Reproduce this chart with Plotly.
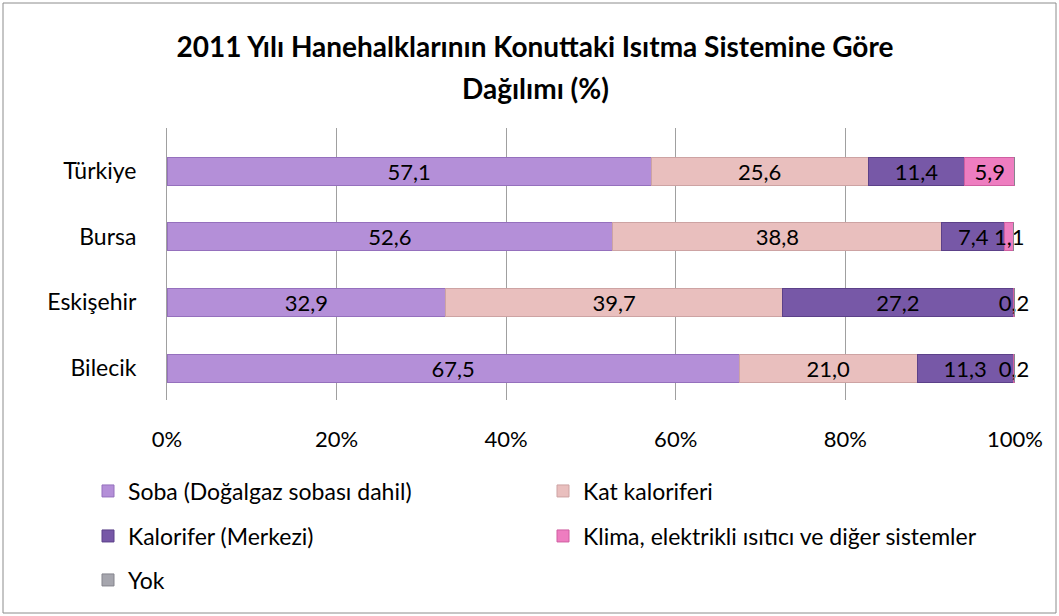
import plotly.graph_objects as go

categories = ["Türkiye", "Bursa", "Eskişehir", "Bilecik"]
series_names = ["Soba (Doğalgaz sobası dahil)", "Kat kaloriferi", "Kalorifer (Merkezi)",
                "Klima, elektrikli ısıtıcı ve diğer sistemler", "Yok"]
soba = [57.1, 52.6, 32.9, 67.5]
kat = [25.6, 38.8, 39.7, 21.0]
merkezi = [11.4, 7.4, 27.2, 11.3]
klima = [5.9, 1.1, 0.2, 0.2]
yok = [0.0, 0.0, 0.0, 0.0]
tick_vals = [0, 20, 40, 60, 80, 100]
tick_text = ["0%", "20%", "40%", "60%", "80%", "100%"]
title_line1 = "2011 Yılı Hanehalklarının Konuttaki Isıtma Sistemine Göre"
title_line2 = "Dağılımı (%)"

values = [soba, kat, merkezi, klima, yok]
colors = ["#B48FD8", "#E9BFBE", "#7758A7", "#EE7DC0", "#A6A6AE"]
lines = ["#9570BD", "#CDA3A3", "#5C4189", "#CF5FA1", "#85858D"]
legends = ["legend", "legend2", "legend3", "legend4", "legend5"]

FONT = "Lato"
W, H = 1059, 616
PL, PR, PT, PB = 167, 1015, 128, 400   # plot area in pixels
fig = go.Figure()
for name, vals, c, lc, lg in zip(series_names, values, colors, lines, legends):
    fig.add_trace(go.Bar(
        y=categories, x=vals, name=name, orientation="h",
        marker=dict(color=c, line=dict(color=lc, width=1)),
        text=[f"{v:.1f}".replace(".", ",") if v > 0 else "" for v in vals],
        textposition="inside", insidetextanchor="middle", textangle=0,
        textfont=dict(family=FONT, size=22, color="black"),
        constraintext="none", cliponaxis=False,
        legend=lg, showlegend=True,
    ))

leg_common = dict(orientation="v", font=dict(family=FONT, size=23, color="black"),
                  itemwidth=30, xref="container", yref="container",
                  xanchor="left", yanchor="middle", bgcolor="rgba(0,0,0,0)")
col1, col2 = 88, 543
rows = [491, 536, 580]
legend_pos = [(col1, rows[0]), (col2, rows[0]), (col1, rows[1]), (col2, rows[1]), (col1, rows[2])]
legend_layout = {}
for lg, (lx, ly) in zip(legends, legend_pos):
    legend_layout[lg] = dict(x=lx / W, y=1 - ly / H, **leg_common)

pw, ph = PR - PL, PB - PT
fig.update_layout(
    width=W, height=H, showlegend=True,
    barmode="stack", bargap=0.574,
    paper_bgcolor="white", plot_bgcolor="white",
    margin=dict(l=PL, r=W - PR, t=PT, b=H - PB, autoexpand=False),
    title=dict(text="<b>" + title_line1 + "</b>",
               x=535 / W, xref="container", xanchor="center",
               y=1 - 47 / H, yref="container", yanchor="middle",
               font=dict(family=FONT, size=28, color="black")),
    annotations=[dict(text="<b>" + title_line2 + "</b>", showarrow=False,
                      xref="paper", yref="paper",
                      x=(535 - PL) / pw, y=(PB - 88) / ph,
                      xanchor="center", yanchor="middle",
                      font=dict(family=FONT, size=28, color="black"))],
    xaxis=dict(range=[0, 100.02], tickvals=tick_vals, ticktext=tick_text,
               showgrid=True, gridcolor="#A0A0A0", gridwidth=1, zeroline=False,
               showline=False, ticks="", ticklabelstandoff=24,
               tickfont=dict(family=FONT, size=22, color="black"), fixedrange=True),
    yaxis=dict(range=[3.487, -0.655], showgrid=False, showline=True, linecolor="#A0A0A0",
               ticks="", ticklabelstandoff=25,
               tickfont=dict(family=FONT, size=23, color="black")),
    separators=",.",
    shapes=[dict(type="rect", xref="paper", yref="paper",
                 x0=(3 - PL) / pw, x1=(1056 - PL) / pw,
                 y0=(PB - 613) / ph, y1=(PB - 3) / ph,
                 line=dict(color="#8C8C8C", width=1), fillcolor="rgba(0,0,0,0)")],
    **legend_layout,
)

fig.write_html("out.html", config={"displayModeBar": False},
               post_script="document.body.style.margin='0';")
